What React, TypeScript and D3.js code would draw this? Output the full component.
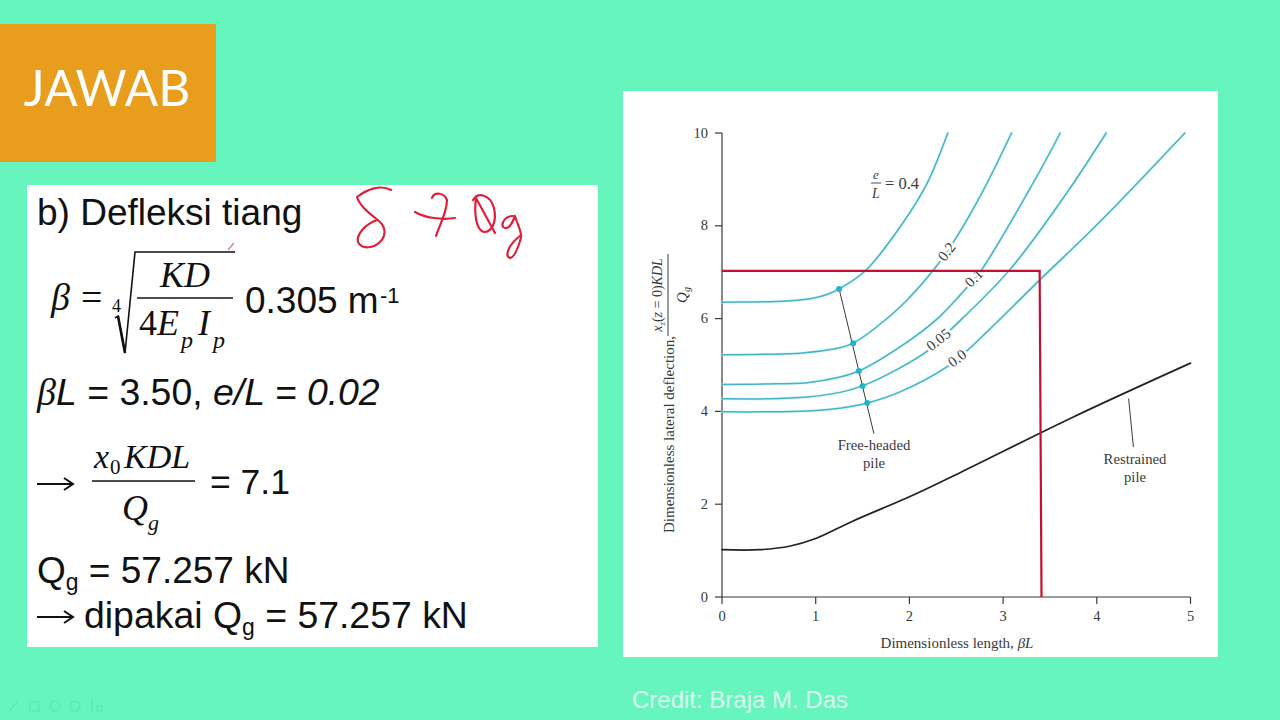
import React from "react";
import * as d3 from "d3";

const xTicks = [0, 1, 2, 3, 4, 5];
const yTicks = [0, 2, 4, 6, 8, 10];

type P = [number, number];
const curve04: P[] = [[0, 6.35], [0.35, 6.36], [0.69, 6.38], [0.97, 6.44], [1.12, 6.52], [1.25, 6.64], [1.53, 7.03], [1.93, 8.06], [2.19, 8.92], [2.41, 10]];
const curve02: P[] = [[0, 5.22], [0.45, 5.23], [0.86, 5.26], [1.23, 5.36], [1.4, 5.47], [1.9, 6.25], [2.25, 7.03], [2.47, 7.65], [2.79, 8.77], [3.09, 10]];
const curve01: P[] = [[0, 4.58], [0.45, 4.59], [0.91, 4.62], [1.26, 4.74], [1.46, 4.87], [1.9, 5.39], [2.3, 6.0], [2.61, 6.66], [2.77, 7.05], [3.32, 8.92], [3.61, 10]];
const curve005: P[] = [[0, 4.27], [0.45, 4.27], [0.91, 4.31], [1.26, 4.41], [1.5, 4.55], [1.9, 4.94], [2.19, 5.3], [2.45, 5.78], [3.07, 7.05], [3.68, 8.71], [4.1, 10]];
const curve00: P[] = [[0, 3.99], [0.45, 3.99], [0.91, 4.01], [1.26, 4.07], [1.55, 4.18], [1.9, 4.42], [2.4, 4.96], [2.61, 5.3], [3.39, 6.83], [4.03, 8.08], [4.94, 10]];
const restrained: P[] = [[0, 1.02], [0.4, 1.02], [0.73, 1.1], [1.0, 1.26], [1.4, 1.64], [2.0, 2.16], [2.54, 2.68], [3.75, 3.88], [5.0, 5.04]];
const freeHeadedCurves = [curve04, curve02, curve01, curve005, curve00];
const freeHeadedPoints: P[] = [[1.25, 6.64], [1.4, 5.47], [1.46, 4.87], [1.5, 4.55], [1.55, 4.18]];
const freeHeadedLeader: P[] = [[1.25, 6.64], [1.62, 3.53]];
const restrainedLeader: P[] = [[4.34, 4.27], [4.39, 3.24]];
const readingX = 3.39;
const readingXBottom = 3.41;
const readingY = 7.03;

const curveLabels = [
  { text: "0.2", x: 2.41, y: 7.42, angle: -52 },
  { text: "0.1", x: 2.7, y: 6.85, angle: -45 },
  { text: "0.05", x: 2.32, y: 5.52, angle: -38 },
  { text: "0.0", x: 2.52, y: 5.12, angle: -38 },
];

const x = d3.scaleLinear().domain([0, 5]).range([722, 1190.5]);
const y = d3.scaleLinear().domain([0, 10]).range([597, 133]);
const line = d3.line<P>().x((d) => x(d[0])).y((d) => y(d[1])).curve(d3.curveCatmullRom.alpha(0.5));
const straight = d3.line<P>().x((d) => x(d[0])).y((d) => y(d[1]));

const SERIF = "'Liberation Serif', serif";
const SANS = "'Liberation Sans', Arial, sans-serif";
const INK = "#111";
const CHART_INK = "#3a3a3a";
const CYAN = "#45b4c6";
const RED = "#c4102f";

function Sans({ x: px, y: py, size = 37, children }: any) {
  return <text x={px} y={py} fontFamily={SANS} fontSize={size} fill={INK}>{children}</text>;
}
function Mi({ x: px, y: py, size = 36, children, anchor = "start" }: any) {
  return <text x={px} y={py} fontFamily={SERIF} fontStyle="italic" fontSize={size} fill={INK} textAnchor={anchor}>{children}</text>;
}
function Arrow({ x1, x2, yy }: any) {
  return (
    <path d={`M${x1} ${yy}H${x2}M${x2 - 9} ${yy - 6}L${x2} ${yy}L${x2 - 9} ${yy + 6}`} fill="none" stroke={INK} strokeWidth={2} />
  );
}

export default function App() {
  return (
    <svg width={1280} height={720} viewBox="0 0 1280 720" style={{ position: "absolute", left: 0, top: 0, background: "#66f5bd" }}>
      {/* Title block */}
      <rect x={0} y={24} width={216} height={138} fill="#e99d1c" />
      <text x={107} y={106} textAnchor="middle" fontFamily="Lato, 'Open Sans', sans-serif" fontSize={49.5} fill="#fff">JAWAB</text>

      {/* Left slide panel */}
      <rect x={27} y={185} width={571} height={462} fill="#fff" />
      <Sans x={37} y={225}>b) Defleksi tiang</Sans>

      <Mi x={51} y={310} size={38}>β</Mi>
      <text x={81} y={310} fontFamily={SERIF} fontSize={38} fill={INK}>=</text>
      <text x={112} y={312} fontFamily={SERIF} fontSize={18} fill={INK}>4</text>
      <path d="M115 318L118 316L125 353L135 252H235" fill="none" stroke={INK} strokeWidth={1.6} />
      <path d="M118 316L125 353" fill="none" stroke={INK} strokeWidth={2.6} />
      <Mi x={185} y={287} anchor="middle">KD</Mi>
      <line x1={137} x2={233} y1={298} y2={298} stroke={INK} strokeWidth={1.5} />
      <text x={139} y={335} fontFamily={SERIF} fontSize={36} fill={INK}>4</text>
      <Mi x={157} y={335}>E</Mi>
      <Mi x={181} y={348} size={24}>p</Mi>
      <Mi x={198} y={335}>I</Mi>
      <Mi x={213} y={348} size={24}>p</Mi>
      <Sans x={245} y={313}>0.305 m</Sans>
      <Sans x={380} y={303} size={22}>-1</Sans>
      <path d="M228 250L234 243" stroke="#b85a70" strokeWidth={1.5} opacity={0.7} />

      <Mi x={37} y={405} size={38}>β</Mi>
      <text x={56} y={405} fontFamily={SANS} fontSize={37.4} fill={INK}>
        <tspan fontStyle="italic">L</tspan> = 3.50, <tspan fontStyle="italic">e/L = 0.02</tspan>
      </text>

      <Arrow x1={37} x2={73} yy={484} />
      <Mi x={94} y={468} size={34}>x</Mi>
      <text x={110} y={474} fontFamily={SERIF} fontSize={21} fill={INK}>0</text>
      <Mi x={124} y={468} size={34}>KDL</Mi>
      <line x1={92} x2={195} y1={481} y2={481} stroke={INK} strokeWidth={1.5} />
      <Mi x={122} y={520} size={36}>Q</Mi>
      <Mi x={148} y={530} size={22}>g</Mi>
      <Sans x={210} y={494} size={35.5}>= 7.1</Sans>

      <text x={37} y={583} fontFamily={SANS} fontSize={37} fill={INK}>
        Q<tspan fontSize={23} dy={7}>g</tspan><tspan dy={-7}> = 57.257 kN</tspan>
      </text>
      <Arrow x1={37} x2={73} yy={617} />
      <text x={84} y={628} fontFamily={SANS} fontSize={37.4} fill={INK}>
        dipakai Q<tspan fontSize={23} dy={7}>g</tspan><tspan dy={-7}> = 57.257 kN</tspan>
      </text>

      {/* Handwritten note */}
      <g fill="none" stroke="#e0203a" strokeWidth={2.2} strokeLinecap="round" strokeLinejoin="round">
        <path d="M391 190C380 184 366 190 357 197C360 207 372 215 380 222C386 228 386 236 380 242C374 248 362 250 358 242C356 234 366 224 377 220" />
        <path d="M432 198C434 192 444 192 447 200C447 212 440 224 436 236" />
        <path d="M415 212C425 218 442 220 455 218" />
        <path d="M473 200C478 192 490 194 494 208C497 222 492 232 484 232C476 230 474 214 476 198L495 233" />
        <path d="M513 216C506 216 501 222 503 227C508 231 512 224 515 216C518 226 522 232 521 238C518 248 514 258 510 258C505 256 507 246 521 235" />
      </g>

      {/* Chart panel */}
      <rect x={623} y={91} width={595} height={566} fill="#fff" />

      <g stroke={CHART_INK} strokeWidth={1.2} fill="none">
        <line x1={x(0)} x2={x(0)} y1={y(10)} y2={y(0)} />
        <line x1={x(0)} x2={x(5)} y1={y(0)} y2={y(0)} />
        {yTicks.map((t) => <line key={t} x1={x(0) - 7} x2={x(0)} y1={y(t)} y2={y(t)} />)}
        {xTicks.map((t) => <line key={t} x1={x(t)} x2={x(t)} y1={y(0)} y2={y(0) + 7} />)}
      </g>
      <g fontFamily={SERIF} fontSize={14.5} fill={CHART_INK}>
        {yTicks.map((t) => <text key={t} x={708} y={y(t) + 4.5} textAnchor="end">{t}</text>)}
        {xTicks.map((t) => <text key={t} x={x(t)} y={621} textAnchor="middle">{t}</text>)}
        <text x={957} y={648} textAnchor="middle" fontSize={15}>Dimensionless length, <tspan fontStyle="italic">βL</tspan></text>
        <text transform="translate(674,533) rotate(-90)" fontSize={15}>Dimensionless lateral deflection,</text>
        <text transform="translate(662,295) rotate(-90)" textAnchor="middle" fontStyle="italic" fontSize={14}>
          x<tspan fontSize={9} dy={3}>z</tspan><tspan dy={-3} fontStyle="normal">(</tspan>z<tspan fontStyle="normal"> = 0)</tspan>KDL
        </text>
        <line x1={668} x2={668} y1={254} y2={336} stroke={CHART_INK} strokeWidth={1} />
        <text transform="translate(687,295) rotate(-90)" textAnchor="middle" fontStyle="italic" fontSize={15}>Q<tspan fontSize={10} dy={3}>g</tspan></text>
      </g>

      {/* Curves */}
      <g fill="none" strokeLinecap="round">
        {freeHeadedCurves.map((c, i) => (
          <path key={i} d={line(c) ?? ""} stroke="#bff0f2" strokeWidth={3} opacity={0.55} />
        ))}
        {freeHeadedCurves.map((c, i) => (
          <path key={i} d={line(c) ?? ""} stroke={CYAN} strokeWidth={1.5} />
        ))}
        <path d={line(restrained) ?? ""} stroke="#222" strokeWidth={1.7} />
        <path d={straight(freeHeadedLeader) ?? ""} stroke={CHART_INK} strokeWidth={1} />
        <path d={straight(restrainedLeader) ?? ""} stroke={CHART_INK} strokeWidth={1} />
      </g>
      {freeHeadedPoints.map((p, i) => (
        <circle key={i} cx={x(p[0])} cy={y(p[1])} r={3} fill="#22b4cf" />
      ))}

      {/* Curve labels */}
      <g fontFamily={SERIF} fontSize={15} fill={CHART_INK}>
        {curveLabels.map((l) => (
          <text
            key={l.text}
            transform={`translate(${x(l.x)},${y(l.y)}) rotate(${l.angle})`}
            textAnchor="middle"
            dominantBaseline="middle"
            stroke="#fff"
            strokeWidth={5}
            paintOrder="stroke"
          >
            {l.text}
          </text>
        ))}
        <text x={876} y={179} textAnchor="middle" fontStyle="italic" fontSize={13}>e</text>
        <line x1={871} x2={881} y1={183} y2={183} stroke={CHART_INK} strokeWidth={0.9} />
        <text x={876} y={198} textAnchor="middle" fontStyle="italic" fontSize={14}>L</text>
        <text x={885} y={189} fontSize={16.5}>= 0.4</text>
        <text x={874} y={450} textAnchor="middle" fontSize={14.7}>Free-headed</text>
        <text x={874} y={468} textAnchor="middle" fontSize={14.7}>pile</text>
        <text x={1135} y={464} textAnchor="middle" fontSize={14.7}>Restrained</text>
        <text x={1135} y={482} textAnchor="middle" fontSize={14.7}>pile</text>
      </g>

      {/* Reading lines */}
      <path
        d={straight([[0, readingY], [readingX, readingY], [readingXBottom, 0]]) ?? ""}
        fill="none"
        stroke={RED}
        strokeWidth={2.2}
      />

      <text x={740} y={708} textAnchor="middle" fontFamily={SANS} fontSize={24} fill="#e8fff5" opacity={0.9}>Credit: Braja M. Das</text>

      {/* Faint player toolbar */}
      <g fill="none" stroke="#4fd8a6" strokeWidth={1.2} opacity={0.45}>
        <path d="M9 711L18 701" />
        <rect x={30} y={702} width={9} height={9} />
        <circle cx={55} cy={706} r={5} />
        <circle cx={75} cy={706} r={5} />
        <path d="M92 699V712" />
        <path d="M97 706H102V711H97Z" />
      </g>
    </svg>
  );
}
